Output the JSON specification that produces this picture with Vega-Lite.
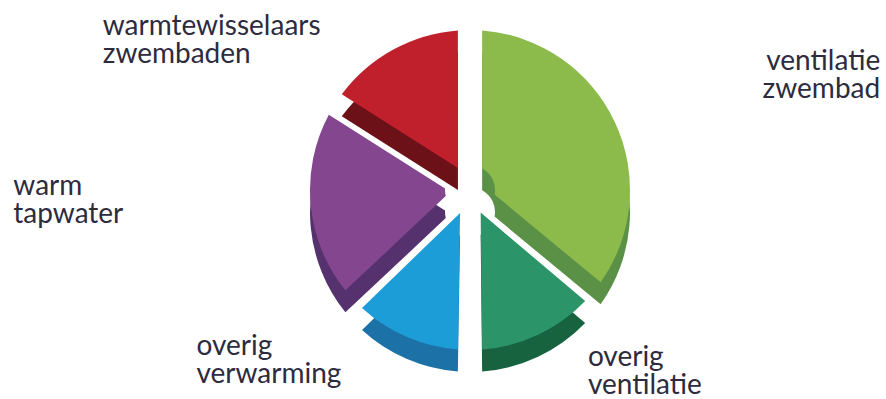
{
  "$schema": "https://vega.github.io/schema/vega-lite/v6.json",
  "autosize": {"type": "none"},
  "width": 832,
  "height": 380,
  "padding": {"left": 54, "top": 0, "right": 0, "bottom": 19},
  "background": "#ffffff",
  "config": {"view": {"stroke": null}},
  "data": {
    "values": [
      {"cat": "ventilatie zwembad", "label": "ventilatie\nzwembad", "value": 36, "idx": 1},
      {"cat": "overig ventilatie", "label": "overig\nventilatie", "value": 14, "idx": 2},
      {"cat": "overig verwarming", "label": "overig\nverwarming", "value": 13, "idx": 3},
      {"cat": "warm tapwater", "label": "warm\ntapwater", "value": 21, "idx": 4},
      {"cat": "warmtewisselaars zwembaden", "label": "warmtewisselaars\nzwembaden", "value": 16, "idx": 5}
    ]
  },
  "resolve": {"scale": {"color": "independent"}},
  "layer": [
    {
      "mark": {"type": "arc", "radius": 160, "innerRadius": 25, "padAngle": 0.15, "yOffset": 22},
      "encoding": {
        "theta": {"field": "value", "type": "quantitative", "stack": true},
        "order": {"field": "idx", "type": "quantitative"},
        "color": {
          "field": "cat", "type": "nominal", "legend": null,
          "scale": {
            "domain": ["ventilatie zwembad", "overig ventilatie", "overig verwarming", "warm tapwater", "warmtewisselaars zwembaden"],
            "range": ["#5a9146", "#176340", "#1c71a6", "#55326e", "#6c1118"]
          }
        }
      }
    },
    {
      "mark": {"type": "arc", "radius": 160, "innerRadius": 25, "padAngle": 0.15},
      "encoding": {
        "theta": {"field": "value", "type": "quantitative", "stack": true},
        "order": {"field": "idx", "type": "quantitative"},
        "color": {
          "field": "cat", "type": "nominal", "legend": null,
          "scale": {
            "domain": ["ventilatie zwembad", "overig ventilatie", "overig verwarming", "warm tapwater", "warmtewisselaars zwembaden"],
            "range": ["#8cbb4c", "#2b9468", "#1d9dd8", "#84468f", "#c0202c"]
          }
        }
      }
    },
    {
      "mark": {"type": "text", "radius": 282, "align": "right", "baseline": "alphabetic", "dx": 155, "dy": 0, "font": "Lato", "fontSize": 28, "lineHeight": 28, "lineBreak": "\n", "color": "#2d2b3e"},
      "encoding": {
        "theta": {"field": "value", "type": "quantitative", "stack": true},
        "order": {"field": "idx", "type": "quantitative"},
        "text": {"condition": {"test": "datum.cat === 'ventilatie zwembad'", "field": "label"}, "value": ""}
      }
    },
    {
      "mark": {"type": "text", "radius": 197, "align": "left", "baseline": "alphabetic", "dx": 34, "dy": -2, "font": "Lato", "fontSize": 28, "lineHeight": 28, "lineBreak": "\n", "color": "#2d2b3e"},
      "encoding": {
        "theta": {"field": "value", "type": "quantitative", "stack": true},
        "order": {"field": "idx", "type": "quantitative"},
        "text": {"condition": {"test": "datum.cat === 'overig ventilatie'", "field": "label"}, "value": ""}
      }
    },
    {
      "mark": {"type": "text", "radius": 180, "align": "left", "baseline": "alphabetic", "dx": -202, "dy": 0, "font": "Lato", "fontSize": 28, "lineHeight": 28, "lineBreak": "\n", "color": "#2d2b3e"},
      "encoding": {
        "theta": {"field": "value", "type": "quantitative", "stack": true},
        "order": {"field": "idx", "type": "quantitative"},
        "text": {"condition": {"test": "datum.cat === 'overig verwarming'", "field": "label"}, "value": ""}
      }
    },
    {
      "mark": {"type": "text", "radius": 300, "align": "left", "baseline": "alphabetic", "dx": -158, "dy": -23, "font": "Lato", "fontSize": 28, "lineHeight": 28, "lineBreak": "\n", "color": "#2d2b3e"},
      "encoding": {
        "theta": {"field": "value", "type": "quantitative", "stack": true},
        "order": {"field": "idx", "type": "quantitative"},
        "text": {"condition": {"test": "datum.cat === 'warm tapwater'", "field": "label"}, "value": ""}
      }
    },
    {
      "mark": {"type": "text", "radius": 177, "align": "left", "baseline": "alphabetic", "dx": -282, "dy": 0, "font": "Lato", "fontSize": 28, "lineHeight": 28, "lineBreak": "\n", "color": "#2d2b3e"},
      "encoding": {
        "theta": {"field": "value", "type": "quantitative", "stack": true},
        "order": {"field": "idx", "type": "quantitative"},
        "text": {"condition": {"test": "datum.cat === 'warmtewisselaars zwembaden'", "field": "label"}, "value": ""}
      }
    }
  ]
}
